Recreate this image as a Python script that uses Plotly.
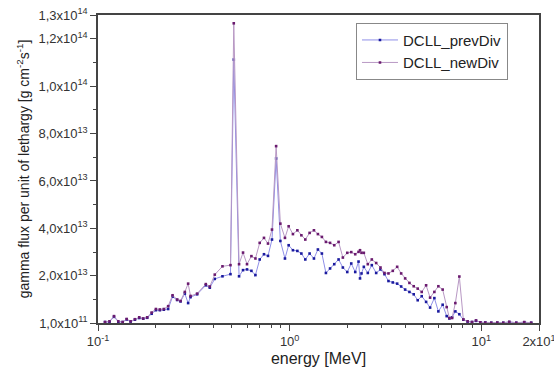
import plotly.graph_objects as go

# Photon energy grid [MeV]
energy = [0.1088, 0.1148, 0.1212, 0.1276, 0.1345, 0.1411, 0.1480, 0.1558, 0.1641, 0.1721,
          0.1806, 0.1905, 0.2005, 0.2103, 0.2206, 0.2323, 0.2449, 0.2588, 0.2696, 0.2838,
          0.2953, 0.3040, 0.3290, 0.3651, 0.3831, 0.4067, 0.4461, 0.4911, 0.511, 0.5445,
          0.5711, 0.5991, 0.6316, 0.6628, 0.6978, 0.7346, 0.7709, 0.8088, 0.85, 0.8945,
          0.9452, 0.988, 1.040, 1.097, 1.151, 1.207, 1.271, 1.339, 1.404, 1.473,
          1.546, 1.625, 1.709, 1.800, 1.895, 1.998, 2.096, 2.199, 2.288, 2.329,
          2.371, 2.438, 2.557, 2.683, 2.828, 2.978, 3.124, 3.278, 3.452, 3.639,
          3.818, 4.005, 4.217, 4.440, 4.658, 4.887, 5.152, 5.405, 5.690, 5.970,
          6.286, 6.597, 6.813, 7.037, 7.321, 7.680, 8.058, 8.483, 8.945, 9.385,
          9.88, 10.49, 11.27, 12.12, 13.02, 13.99, 15.22, 16.75, 18.21]

# Gamma flux per unit lethargy, in units of 1e13 g cm^-2 s^-1
prev_div = [0.05, 0.06, 0.27, 0.06, 0.05, 0.16, 0.07, 0.15, 0.22, 0.19,
            0.23, 0.40, 0.55, 0.55, 0.57, 0.60, 1.12, 0.98, 0.92, 1.25,
            0.85, 1.10, 1.22, 1.60, 1.50, 1.87, 1.98, 2.07, 11.12, 1.98,
            2.24, 2.27, 2.21, 2.03, 2.69, 2.91, 2.84, 3.53, 6.95, 3.47,
            2.73, 3.29, 3.08, 3.05, 2.94, 2.69, 2.94, 2.73, 3.11, 2.94,
            2.12, 2.31, 2.49, 2.69, 2.35, 2.16, 2.52, 2.16, 2.60, 1.89,
            2.10, 2.38, 2.12, 2.45, 2.12, 2.27, 2.07, 1.78, 1.72, 1.67,
            1.55, 1.42, 1.32, 1.22, 0.97, 1.14, 0.90, 0.66, 1.06, 0.50,
            0.78, 0.30, 0.20, 0.25, 0.50, 0.38, 0.15, 0.07, 0.05, 0.10,
            0.04, 0.03, 0.02, 0.02, 0.02, 0.05, 0.02, 0.04, 0.02]

new_div = [0.05, 0.08, 0.30, 0.08, 0.05, 0.18, 0.08, 0.17, 0.25, 0.20,
           0.25, 0.45, 0.60, 0.58, 0.60, 0.72, 1.18, 1.00, 0.94, 1.32,
           1.67, 1.15, 1.25, 1.65, 1.55, 2.05, 2.40, 2.45, 12.65, 2.49,
           2.98, 2.49, 2.83, 2.73, 3.39, 3.60, 3.36, 3.95, 7.47, 4.20,
           3.60, 4.09, 3.76, 3.92, 3.71, 3.53, 3.81, 3.92, 3.76, 3.64,
           3.43, 3.39, 3.29, 3.43, 2.77, 2.97, 3.00, 2.91, 3.01, 3.08,
           2.97, 2.97, 2.49, 2.69, 2.54, 2.35, 2.12, 2.10, 2.21, 2.38,
           2.10, 1.89, 1.70, 1.56, 1.46, 1.32, 1.60, 1.08, 1.32, 1.56,
           1.42, 0.68, 0.22, 0.22, 0.85, 1.97, 0.16, 0.08, 0.05, 0.12,
           0.04, 0.03, 0.02, 0.03, 0.02, 0.06, 0.02, 0.05, 0.02]

series_names = ["DCLL_prevDiv", "DCLL_newDiv"]

# Axis ticks
y_tick_vals = [1e11, 2e13, 4e13, 6e13, 8e13, 1e14, 1.2e14, 1.3e14]
y_tick_text = ["1,0x10<sup>11</sup>", "2,0x10<sup>13</sup>", "4,0x10<sup>13</sup>",
               "6,0x10<sup>13</sup>", "8,0x10<sup>13</sup>", "1,0x10<sup>14</sup>",
               "1,2x10<sup>14</sup>", "1,3x10<sup>14</sup>"]
y_minor_vals = [1e13, 3e13, 5e13, 7e13, 9e13, 1.1e14]
x_tick_vals = [0.1, 1, 10, 20]
x_tick_text = ["10<sup>-1</sup>", "10<sup>0</sup>", "10<sup>1</sup>", "2x10<sup>1</sup>"]
x_minor_vals = [0.2, 0.3, 0.4, 0.5, 0.6, 0.7, 0.8, 0.9, 2, 3, 4, 5, 6, 7, 8, 9]

scale = 1e13
fig = go.Figure()
fig.add_trace(go.Scatter(
    x=energy, y=[max(v * scale, 1e11) for v in prev_div], name=series_names[0],
    mode="lines+markers",
    line=dict(color="#8f8fe8", width=1),
    marker=dict(symbol="square", size=2.6, color="#1a1a9e"),
))
fig.add_trace(go.Scatter(
    x=energy, y=[max(v * scale, 1e11) for v in new_div], name=series_names[1],
    mode="lines+markers",
    line=dict(color="#b898c4", width=1),
    marker=dict(symbol="square", size=2.6, color="#6a1a6e"),
))

axis_font = dict(family="Liberation Sans, Arial, sans-serif", size=13, color="#333")
fig.update_layout(
    width=554, height=372,
    margin=dict(l=98, r=15, t=15, b=49, autoexpand=False),
    paper_bgcolor="white", plot_bgcolor="white",
    font=dict(family="Liberation Sans, Arial, sans-serif", color="#222"),
    showlegend=True,
    legend=dict(x=0.585, y=0.975, xanchor="left", yanchor="top",
                bgcolor="white", bordercolor="#888", borderwidth=1,
                font=dict(size=15, color="#222"), tracegroupgap=0,
                itemwidth=36),
    xaxis=dict(
        type="log", range=[-1, 1.30103], automargin=False,
        tickvals=x_tick_vals, ticktext=x_tick_text,
        ticks="outside", ticklen=6, tickwidth=1.2, tickcolor="#444",
        ticklabeloverflow="allow",
        minor=dict(tickvals=x_minor_vals, ticks="outside", ticklen=3, tickcolor="#444"),
        showline=True, linecolor="#444", linewidth=1.5, mirror=True,
        showgrid=False, zeroline=False, tickfont=axis_font,
        title=dict(text="energy [MeV]", font=dict(size=16, color="#222"), standoff=4),
    ),
    yaxis=dict(
        range=[1e11, 1.3e14], automargin=False,
        tickvals=y_tick_vals, ticktext=y_tick_text,
        ticks="outside", ticklen=6, tickwidth=1.2, tickcolor="#444",
        minor=dict(tickvals=y_minor_vals, ticks="outside", ticklen=3, tickcolor="#444"),
        showline=True, linecolor="#444", linewidth=1.5, mirror=True,
        showgrid=False, zeroline=False, tickfont=axis_font,
        title=dict(text="gamma flux per unit of lethargy [g cm<sup>-2</sup>s<sup>-1</sup>]",
                   font=dict(size=14, color="#222"), standoff=6),
    ),
)

fig.write_html("out.html")
